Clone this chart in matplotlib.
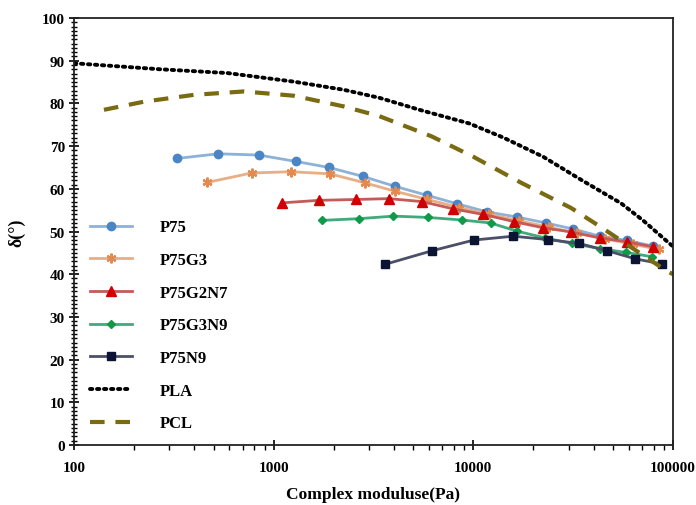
import numpy as np
import matplotlib
matplotlib.use('Agg')
from matplotlib import pyplot as plt
from matplotlib.ticker import MultipleLocator, LogLocator, NullFormatter, FixedLocator, FixedFormatter

# log10 of complex modulus (Pa) and phase angle (deg)
p75_logx = [2.514, 2.723, 2.926, 3.112, 3.277, 3.447, 3.606, 3.766, 3.918, 4.068, 4.218, 4.363, 4.499, 4.634, 4.769, 4.899]
p75_y = [67.1, 68.2, 67.9, 66.4, 65.0, 62.9, 60.6, 58.5, 56.5, 54.6, 53.4, 52.0, 50.6, 48.9, 47.9, 46.6]

p75g3_logx = [2.668, 2.889, 3.087, 3.283, 3.456, 3.610, 3.77, 3.93, 4.08, 4.23, 4.38, 4.52, 4.66, 4.80, 4.93]
p75g3_y = [61.5, 63.7, 64.0, 63.5, 61.4, 59.4, 57.5, 55.6, 54.0, 52.5, 51.0, 49.6, 48.3, 47.0, 45.8]

p75g2n7_logx = [3.040, 3.227, 3.414, 3.576, 3.744, 3.899, 4.050, 4.205, 4.347, 4.489, 4.634, 4.768, 4.901]
p75g2n7_y = [56.7, 57.3, 57.5, 57.7, 57.0, 55.3, 54.0, 52.3, 50.9, 49.9, 48.5, 47.6, 46.4]

p75g3n9_logx = [3.240, 3.426, 3.599, 3.771, 3.941, 4.086, 4.217, 4.359, 4.493, 4.634, 4.764, 4.894]
p75g3n9_y = [52.6, 53.0, 53.6, 53.3, 52.7, 52.0, 50.1, 48.5, 47.2, 46.0, 45.1, 44.1]

p75n9_logx = [3.557, 3.794, 4.003, 4.200, 4.375, 4.530, 4.670, 4.811, 4.943]
p75n9_y = [42.3, 45.5, 48.0, 48.9, 48.1, 47.2, 45.5, 43.6, 42.4]

pla_logx = [2.0, 2.43, 2.77, 3.10, 3.35, 3.53, 3.73, 3.98, 4.15, 4.35, 4.54, 4.74, 4.85, 4.97, 5.0]
pla_y = [89.4, 88.0, 87.1, 85.1, 83.2, 81.3, 78.5, 75.3, 72.0, 67.5, 62.1, 56.6, 52.6, 47.7, 46.5]

pcl_logx = [2.15, 2.35, 2.60, 2.85, 3.10, 3.35, 3.53, 3.79, 4.00, 4.24, 4.49, 4.64, 4.80, 4.97, 5.0]
pcl_y = [78.5, 80.4, 82.0, 82.8, 81.8, 79.3, 77.0, 72.3, 67.5, 61.4, 55.5, 51.0, 46.0, 40.7, 40.0]

series = [
    ('P75', p75_logx, p75_y, 'o', '#4A86C5', '#8DB2D8', 6),
    ('P75G3', p75g3_logx, p75g3_y, (6, 2, 0), '#E58A4E', '#E8AE85', 7),
    ('P75G2N7', p75g2n7_logx, p75g2n7_y, '^', '#D00000', '#C45A5A', 7),
    ('P75G3N9', p75g3n9_logx, p75g3n9_y, 'D', '#0E9A48', '#3FAA7C', 4.5),
    ('P75N9', p75n9_logx, p75n9_y, 's', '#0B1433', '#4B5068', 6),
]

font = 'Liberation Serif'

fig = plt.figure(figsize=(6.96, 5.06), dpi=100)
ax = fig.add_axes([74/696, 1-446/506, 599/696, 427/506])

for name, lx, yy, mk, mc, lc, ms in series:
    xx = 10 ** np.array(lx)
    ax.plot(xx, yy, color=lc, lw=2, marker=mk, markersize=ms,
            markerfacecolor=mc, markeredgecolor=mc, markeredgewidth=1.0 if mk != (6, 2, 0) else 1.6,
            label=name)

ax.plot(10 ** np.array(pla_logx), pla_y, color='black', lw=2.8, linestyle=(0, (0.6, 1.2)),
        dash_capstyle='round', label='PLA')
ax.plot(10 ** np.array(pcl_logx), pcl_y, color='#7A6A12', lw=3, linestyle=(0, (3.5, 2.6)), label='PCL')

ax.set_xscale('log')
ax.set_xlim(100, 100000)
ax.set_ylim(0, 100)
ax.yaxis.set_major_locator(MultipleLocator(10))
ax.yaxis.set_minor_locator(MultipleLocator(1))
ax.xaxis.set_major_locator(FixedLocator([100, 1000, 10000, 100000]))
ax.xaxis.set_major_formatter(FixedFormatter(['100', '1000', '10000', '100000']))
ax.xaxis.set_minor_locator(LogLocator(base=10, subs=np.arange(2, 10)))
ax.xaxis.set_minor_formatter(NullFormatter())

ax.tick_params(axis='both', which='major', direction='inout', length=7, width=1.2,
               labelsize=11, pad=3)
ax.tick_params(axis='x', which='major', pad=8)
ax.tick_params(axis='y', which='minor', direction='inout', length=4, width=1)
ax.tick_params(axis='x', which='minor', direction='out', length=3.5, width=1)
for lab in ax.get_xticklabels() + ax.get_yticklabels():
    lab.set_fontfamily(font)
    lab.set_fontweight('bold')

for s in ax.spines.values():
    s.set_linewidth(1.3)
    s.set_color('#222222')

ax.set_xlabel('Complex moduluse(Pa)', fontfamily=font, fontweight='bold', fontsize=12.5, labelpad=9)
ax.set_ylabel('δ(°)', fontfamily=font, fontweight='bold', fontsize=13, labelpad=12)

leg = ax.legend(loc='center left', bbox_to_anchor=(0.027, 0.28), frameon=False,
                prop={'family': font, 'weight': 'bold', 'size': 12},
                handlelength=2.5, handletextpad=1.7, labelspacing=1.0, borderpad=0, borderaxespad=0)

fig.savefig('out.png', dpi=100)
plt.close()
